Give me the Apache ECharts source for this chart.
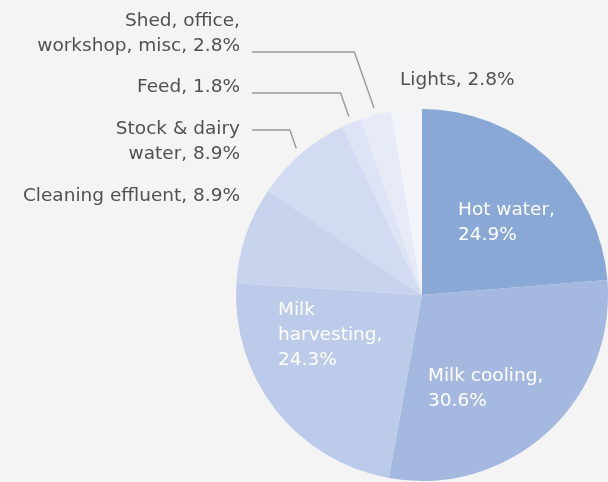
<!DOCTYPE html>
<html>
<head>
<meta charset="utf-8">
<script src="https://cdn.jsdelivr.net/npm/echarts@6/dist/echarts.min.js"></script>
<style>
  html, body { margin: 0; padding: 0; background: #f4f4f4; }
  #chart { width: 608px; height: 482px; }
</style>
</head>
<body>
<div id="chart"></div>
<script>
// Dairy shed energy use by activity (%)
const categories = ['Hot water', 'Milk cooling', 'Milk harvesting', 'Cleaning effluent',
  'Stock & dairy water', 'Feed', 'Shed, office, workshop, misc', 'Lights'];
const shares = [24.9, 30.6, 24.3, 8.9, 8.9, 1.8, 2.8, 2.8];
// label wording with line breaks; {v} is replaced by the share
const labelTemplates = ['Hot water,\n{v}', 'Milk cooling,\n{v}', 'Milk\nharvesting,\n{v}',
  'Cleaning effluent, {v}', 'Stock & dairy\nwater, {v}', 'Feed, {v}',
  'Shed, office,\nworkshop, misc, {v}', 'Lights, {v}'];

const sliceColors = ['#8aa8d6', '#a4b8e0', '#bbcbe9', '#c8d4ed', '#d3dbf2', '#dee3f5', '#e7ebf8', '#f3f5fb'];

// pie geometry
const CX = 422, CY = 295, R = 186;

// where each label sits; elbowY marks labels that get a leader line
const labelSpots = [
  { x: 458, y: 198, align: 'left', inside: true },
  { x: 428, y: 364, align: 'left', inside: true },
  { x: 278, y: 298, align: 'left', inside: true },
  { x: 240, y: 184, align: 'right' },
  { x: 240, y: 117, align: 'right', elbowY: 130 },
  { x: 240, y: 75, align: 'right', elbowY: 93 },
  { x: 240, y: 9, align: 'right', elbowY: 52 },
  { x: 400, y: 68, align: 'left' }
];

const total = shares.reduce((a, b) => a + b, 0);
function midDirection(i) {
  let before = 0;
  for (let k = 0; k < i; k++) before += shares[k];
  const a = (before + shares[i] / 2) / total * Math.PI * 2;
  return [Math.sin(a), -Math.cos(a)];
}

const data = categories.map((name, i) => ({
  name: name,
  value: shares[i],
  itemStyle: { color: sliceColors[i] },
  label: {
    position: labelSpots[i].inside ? 'inside' : 'outside',
    color: labelSpots[i].inside ? '#ffffff' : '#505154'
  },
  labelLine: { show: labelSpots[i].elbowY != null }
}));

const chart = echarts.init(document.getElementById('chart'), null, { renderer: 'canvas' });
chart.setOption({
  backgroundColor: '#f4f4f4',
  animation: false,
  series: [{
    type: 'pie',
    center: [CX, CY],
    radius: R,
    startAngle: 90,
    clockwise: true,
    avoidLabelOverlap: false,
    itemStyle: { borderWidth: 0 },
    emphasis: { disabled: true },
    label: {
      fontFamily: 'DejaVu Sans',
      fontSize: 18.5,
      lineHeight: 25,
      formatter: p => labelTemplates[p.dataIndex].replace('{v}', p.value.toFixed(1) + '%')
    },
    labelLine: {
      lineStyle: { color: '#9a9a9a', width: 1.4 }
    },
    labelLayout: function (params) {
      const s = labelSpots[params.dataIndex];
      const out = { x: s.x, y: s.y, align: s.align, verticalAlign: 'top' };
      if (s.elbowY != null) {
        const d = midDirection(params.dataIndex);
        const ex = CX + (R + 7) * d[0];
        const ey = CY + (R + 7) * d[1];
        const bx = ex - 0.35 * (ey - s.elbowY);
        out.labelLinePoints = [[s.x + 12, s.elbowY], [bx, s.elbowY], [ex, ey]];
      }
      return out;
    },
    data: data
  }]
});
</script>
</body>
</html>
